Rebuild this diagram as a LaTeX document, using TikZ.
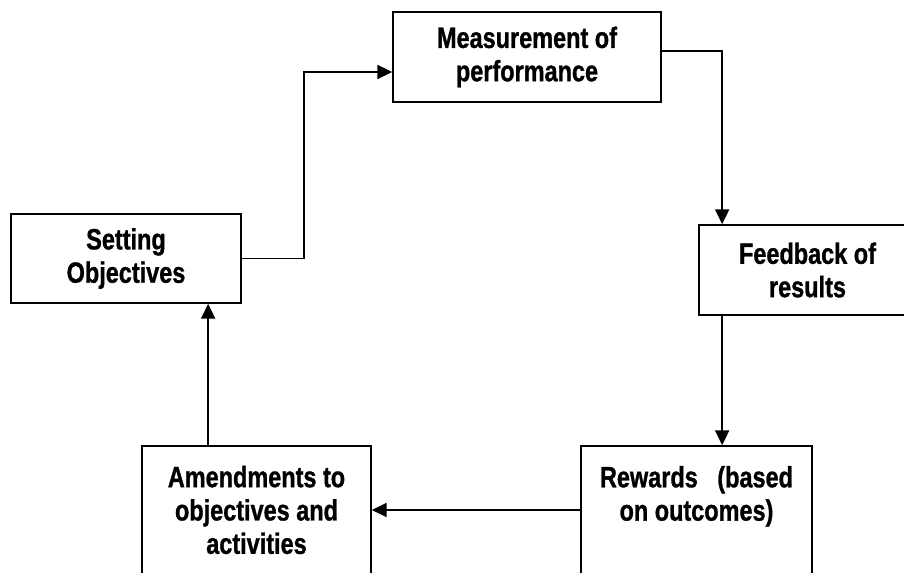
\documentclass[tikz,border=0pt]{standalone}
\usepackage{fontspec}
\setmainfont{Liberation Sans}[FakeStretch=0.8, BoldFeatures={FakeBold=1}]
\usetikzlibrary{arrows.meta}
\tikzstyle{block} = [rectangle, draw, line width=1.3pt, fill=white,
align=center, font=\fontsize{22}{25}\selectfont\bfseries]
\tikzstyle{line} = [draw, line width=1.3pt, -{Triangle[length=11pt,width=10.5pt]}]

\begin{document}
\begin{tikzpicture}[x=0.75pt, y=-0.75pt]
	\clip (0,0) rectangle (904,573);
	% Place nodes
	\node [block, minimum width=201pt, minimum height=67.5pt] (meas) at (527,57) {Measurement of\\performance};
	\node [block, minimum width=172.5pt, minimum height=66.75pt] (setobj) at (126,258.5) {Setting\\Objectives};
	\node [block, minimum width=162.75pt, minimum height=67.5pt] (feedback) at (807.5,270) {Feedback of\\results};
	\node [block, minimum width=173.25pt, minimum height=96pt] (rewards) at (696.5,510) {Rewards \ \ (based\\on outcomes)\\~};
	\node [block, minimum width=171.75pt, minimum height=96pt] (amend) at (256.5,510) {Amendments to\\objectives and\\activities};

	\path [line] (setobj.east) -- ++(62,0) |- ([yshift=-11.25pt]meas.west);
	\path [line] ([yshift=4.5pt]meas.east) -| ([xshift=18pt]feedback.north west);
	\path [line] ([xshift=18pt]feedback.south west) -- ([xshift=18pt]feedback.south west |- rewards.north);
	\path [line] (rewards.west) -- (amend.east);
	\path [line] ([xshift=50.25pt]amend.north west) -- ([xshift=50.25pt]amend.north west |- setobj.south);
\end{tikzpicture}
\end{document}
